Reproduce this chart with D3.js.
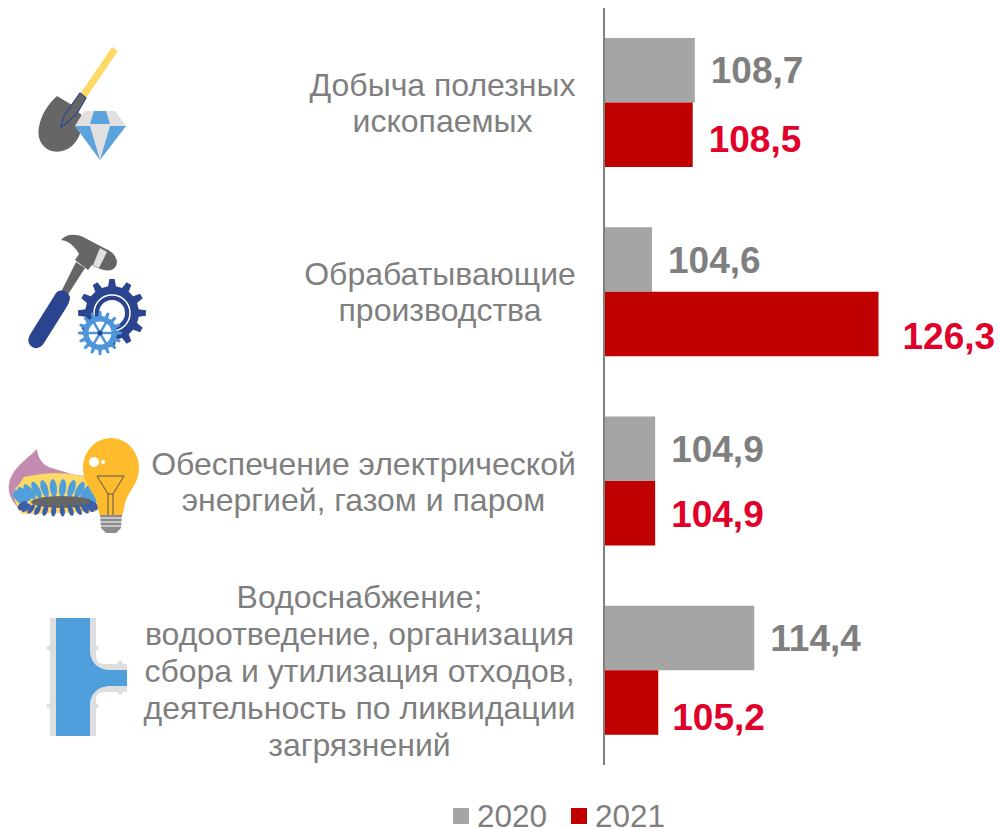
<!doctype html>
<html>
<head>
    <meta charset="utf-8"/>
    <style>
        html, body { margin: 0; padding: 0; background: #fff; }
        svg { display: block; }
        text { font-family: "Liberation Sans", Arial, sans-serif; }
    </style>
    <script src="https://d3js.org/d3.v7.min.js"></script>
</head>
<body>
<svg width="999" height="829"></svg>

<script>
    var categories = ["mining", "manufacturing", "energy", "water"];
    var categoryLines = [
        ["Добыча полезных", "ископаемых"],
        ["Обрабатывающие", "производства"],
        ["Обеспечение электрической", "энергией, газом и паром"],
        ["Водоснабжение;", "водоотведение, организация", "сбора и утилизация отходов,", "деятельность по ликвидации", "загрязнений"]
    ];
    var years = ["2020", "2021"];
    var values2020 = [108.7, 104.6, 104.9, 114.4];
    var values2021 = [108.5, 126.3, 104.9, 105.2];
    var labels2020 = ["108,7", "104,6", "104,9", "114,4"];
    var labels2021 = ["108,5", "126,3", "104,9", "105,2"];

    var barColor = {"2020": "#a5a5a5", "2021": "#c00000"};
    var labelColor = {"2020": "#7f7f7f", "2021": "#e0002a"};
    var textGrey = "#7f7f7f";

    var svg = d3.select("svg");

    var x = d3.scaleLinear().domain([100, 126.3]).range([604, 878.5]);
    var y = d3.scaleBand().domain(categories).range([8, 765]);
    var y2 = d3.scaleBand().domain(years).range([30, 159]);

    // hand placed labels in the original, so they get nudged per bar
    var labelDx = {"2020": [16, 16, 16, 16], "2021": [16, 24, 16, 14]};
    var labelDy = {"2020": [0, 0, 0, 0], "2021": [4, 12, 1, 14]};

    // bars and value labels
    years.forEach(function(year) {
        var vals = year === "2020" ? values2020 : values2021;
        var labs = year === "2020" ? labels2020 : labels2021;

        svg.append("g").selectAll("rect")
            .data(categories)
            .join("rect")
            .attr("x", x(100))
            .attr("y", function(d) { return y(d) + y2(year); })
            .attr("width", function(d, i) { return x(vals[i]) - x(100); })
            .attr("height", y2.bandwidth())
            .attr("fill", barColor[year]);

        svg.append("g").selectAll("text")
            .data(categories)
            .join("text")
            .attr("x", function(d, i) { return x(vals[i]) + labelDx[year][i]; })
            .attr("y", function(d, i) { return y(d) + y2(year) + y2.bandwidth() / 2 + 13 + labelDy[year][i]; })
            .attr("font-size", 37)
            .attr("font-weight", "bold")
            .attr("fill", labelColor[year])
            .text(function(d, i) { return labs[i]; });
    });

    // vertical axis line
    svg.append("line")
        .attr("x1", x(100)).attr("x2", x(100))
        .attr("y1", 8).attr("y2", 765)
        .attr("stroke", "#7f7f7f")
        .attr("stroke-width", 2);

    // category labels, centred blocks pushed against x=576
    var labelCentre = [442.5, 440, 363.5, 359.5];
    var firstBaseline = [96, 285, 475, 608];
    var lineStep = [36, 36, 36, 37];
    categories.forEach(function(c, i) {
        var t = svg.append("text")
            .attr("text-anchor", "middle")
            .attr("font-size", 32)
            .attr("fill", textGrey);
        t.selectAll("tspan")
            .data(categoryLines[i])
            .join("tspan")
            .attr("x", labelCentre[i])
            .attr("y", function(d, k) { return firstBaseline[i] + k * lineStep[i]; })
            .text(function(d) { return d; });
    });

    // legend
    var legend = svg.append("g");
    var legendX = [453, 571];
    years.forEach(function(year, i) {
        legend.append("rect")
            .attr("x", legendX[i]).attr("y", 808)
            .attr("width", 16).attr("height", 16)
            .attr("fill", barColor[year]);
        legend.append("text")
            .attr("x", legendX[i] + 24).attr("y", 827)
            .attr("font-size", 31.5)
            .attr("fill", textGrey)
            .text(year);
    });

    // icons
    function gear(g, cx, cy, rOut, rIn, teeth, fill) {
        var pts = [];
        for (var i = 0; i < teeth; i++) {
            var a = i / teeth * 2 * Math.PI, w = Math.PI / teeth * 0.5;
            pts.push([a - w * 1.1, rIn], [a - w * 0.6, rOut], [a + w * 0.6, rOut], [a + w * 1.1, rIn]);
        }
        g.append("path")
            .attr("transform", "translate(" + cx + "," + cy + ")")
            .attr("d", d3.lineRadial().curve(d3.curveLinearClosed)(pts))
            .attr("fill", fill);
    }

    // shovel and diamond
    var ic1 = svg.append("g");
    ic1.append("path").attr("d", "M115,49 L83,96").attr("stroke", "#ffd966").attr("stroke-width", 7);
    ic1.append("path").attr("d", "M57,96 L72,105 L61,127 L78,112 L83,116 C83,128 80,138 72,146 C64,153 54,153 47,149 C40,144 37,136 39,127 C41,115 48,104 57,96 Z").attr("fill", "#666666");
    ic1.append("path").attr("d", "M80,93 L86,98 L78,112 L68,122 L61,127 L64,116 Z").attr("fill", "#666666").attr("stroke", "#2f4590").attr("stroke-width", 1.2);
    ic1.append("path").attr("d", "M84,111 L115,111 L126,126 L100,160 L75,126 Z").attr("fill", "#e0e0e0");
    ic1.append("path").attr("d", "M94,111 L106,111 L110,124 L90,124 Z").attr("fill", "#5ba3db");
    ic1.append("path").attr("d", "M75,126 L90,126 L100,160 Z M126,126 L110,126 L100,160 Z").attr("fill", "#5ba3db");

    // hammer and gears
    var ic2 = svg.append("g");
    ic2.append("path").attr("d", "M76,262 L85,268 L67,296 L61,292 Z").attr("fill", "#666666");
    ic2.append("path").attr("d", "M56,293 C60,288 68,291 70,297 C70,301 68,305 66,308 L44,343 C41,348 35,350 31,346 C27,342 28,338 31,333 Z").attr("fill", "#2b4490");
    ic2.append("path").attr("d", "M61,240 C66,234 76,233 85,238 L106,249 C114,252 119,260 116,266 C113,272 104,271 98,268 L92,265 L88,270 L75,260 L79,254 C74,245 68,241 61,240 Z").attr("fill", "#666666");
    ic2.append("path").attr("d", "M100,248 L107,252 L99,268 L93,265 Z").attr("fill", "#e0e0e0");
    gear(ic2, 112, 313, 34, 27, 12, "#2b4490");
    ic2.append("circle").attr("cx", 112).attr("cy", 313).attr("r", 18).attr("fill", "none").attr("stroke", "#fff").attr("stroke-width", 1.5);
    ic2.append("circle").attr("cx", 112).attr("cy", 313).attr("r", 13).attr("fill", "#fff");
    gear(ic2, 100, 333, 22, 17, 16, "#4f96d8");
    ic2.append("circle").attr("cx", 100).attr("cy", 333).attr("r", 13).attr("fill", "#fff");
    ic2.append("circle").attr("cx", 100).attr("cy", 333).attr("r", 13).attr("fill", "none").attr("stroke", "#4f96d8").attr("stroke-width", 3);
    d3.range(6).forEach(function(i) {
        var a = i / 6 * 2 * Math.PI;
        ic2.append("line").attr("x1", 100).attr("y1", 333)
            .attr("x2", 100 + 13 * Math.cos(a)).attr("y2", 333 + 13 * Math.sin(a))
            .attr("stroke", "#4f96d8").attr("stroke-width", 2.5);
    });
    ic2.append("circle").attr("cx", 100).attr("cy", 333).attr("r", 2.5).attr("fill", "#2b4490");

    // gas burner and light bulb
    var ic3 = svg.append("g");
    ic3.append("path").attr("d", "M37,449 C38,458 42,466 55,469 C66,472 74,476 88,476 L92,510 L30,514 C16,510 7,496 9,484 C12,468 26,460 37,449 Z").attr("fill", "#c48bb0");
    ic3.append("path").attr("d", "M24,477 C40,474 60,470 90,478 L96,512 L22,514 C18,510 12,496 14,490 C18,486 21,482 24,477 Z").attr("fill", "#ffd966");
    d3.range(14).forEach(function(i) {
        var a = Math.PI * (1 + i / 13);
        var fx = 58 + 38 * Math.cos(a), fy = 499 + 11 * Math.sin(a);
        ic3.append("ellipse").attr("cx", fx).attr("cy", fy).attr("rx", 3.5).attr("ry", 9)
            .attr("transform", "rotate(" + (50 * Math.cos(a)) + "," + fx + "," + fy + ")")
            .attr("fill", "#4f9fdc");
    });
    ic3.append("ellipse").attr("cx", 62).attr("cy", 502).attr("rx", 31).attr("ry", 6).attr("fill", "#666666");
    d3.range(14).forEach(function(i) {
        var a = Math.PI * i / 13;
        var fx = 58 + 36 * Math.cos(a), fy = 505 + 6 * Math.sin(a);
        ic3.append("ellipse").attr("cx", fx).attr("cy", fy).attr("rx", 2.5).attr("ry", 5.5)
            .attr("transform", "rotate(" + (-50 * Math.cos(a)) + "," + fx + "," + fy + ")")
            .attr("fill", "#3d5fa8");
    });
    ic3.append("path").attr("d", "M111,438 C127,438 139,452 139,468 C139,482 130,490 126,500 C124,506 124,512 122,515 L100,515 C98,512 98,506 96,500 C92,490 83,482 83,468 C83,452 95,438 111,438 Z").attr("fill", "#fdbb2d");
    ic3.append("circle").attr("cx", 94).attr("cy", 462).attr("r", 5).attr("fill", "#fff");
    ic3.append("circle").attr("cx", 103).attr("cy", 462).attr("r", 2).attr("fill", "#fff");
    ic3.append("path").attr("d", "M97,476 L124,476 L113,494 L113,515 M97,476 L108,494 L108,515 M108,494 L113,494").attr("fill", "none").attr("stroke", "#555555").attr("stroke-width", 1);
    ic3.append("path").attr("d", "M100,515 L122,515 L121,528 L116,533 L106,533 L101,528 Z").attr("fill", "#8c8c8c");
    [518, 522, 526].forEach(function(ly) {
        ic3.append("line").attr("x1", 100).attr("x2", 122).attr("y1", ly).attr("y2", ly).attr("stroke", "#fff").attr("stroke-width", 1);
    });

    // pipe tee
    var ic4 = svg.append("g");
    ic4.append("path").attr("d", "M50,618 L96,618 L96,656 C96,664 102,664 108,664 L127,664 L127,692 L108,692 C102,692 96,692 96,700 L96,736 L50,736 Z").attr("fill", "#dedede");
    ic4.append("path").attr("d", "M56,618 L90,618 L90,650 C90,664 100,670 110,670 L127,670 L127,686 L110,686 C100,686 90,692 90,706 L90,736 L56,736 Z").attr("fill", "#4f9fdc");
    [[49, 648], [49, 706], [96, 648], [96, 706], [120, 663], [120, 692]].forEach(function(p) {
        ic4.append("circle").attr("cx", p[0]).attr("cy", p[1]).attr("r", 2.5).attr("fill", "#dedede");
    });
</script>
</body>
</html>
